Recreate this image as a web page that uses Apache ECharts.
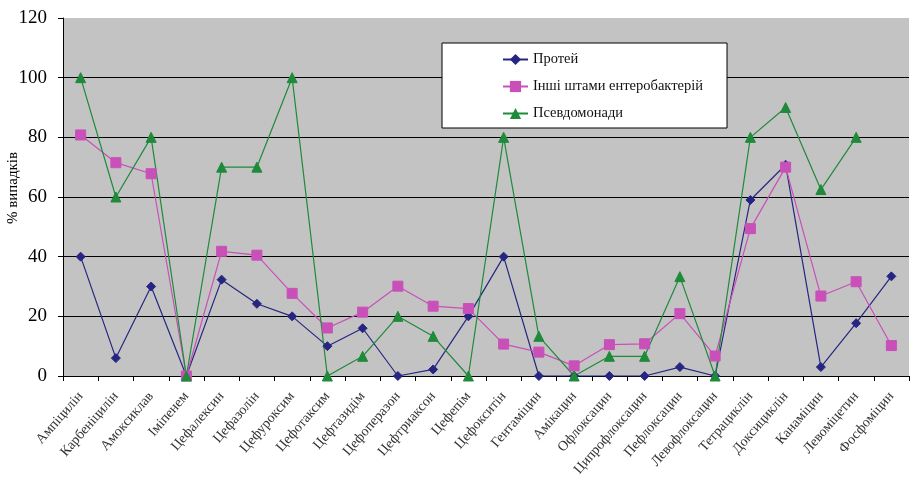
<!DOCTYPE html>
<html><head><meta charset="utf-8">
<script src="https://cdn.jsdelivr.net/npm/echarts@6/dist/echarts.min.js"></script>
<style>html,body{margin:0;padding:0;background:#fff}#c{width:911px;height:477px}</style>
</head><body><div id="c"></div>
<script>
const categories = ['Ампіцилін','Карбеніцилін','Амоксиклав','Іміпенем','Цефалексин','Цефазолін','Цефуроксим','Цефотаксим','Цефтазидім','Цефоперазон','Цефтриаксон','Цефепім','Цефокситін','Гентаміцин','Амікацин','Офлоксацин','Ципрофлоксацин','Пефлоксацин','Левофлоксацин','Тетрациклін','Доксициклін','Канаміцин','Левоміцетин','Фосфоміцин'];
const proteus = [40,6,30,0,32.3,24.2,20,10,16,0,2.2,20,40,0,0,0,0,3,0,59,70.8,3,17.7,33.4];
const enterobacteria = [80.8,71.5,67.8,0,41.8,40.5,27.7,16.1,21.4,30.1,23.4,22.6,10.7,8,3.4,10.5,10.8,20.9,6.7,49.4,70,26.8,31.6,10.2];
const pseudomonas = [100,60,80,0,70,70,100,0,6.6,20,13.3,0,80,13.3,0,6.6,6.6,33.3,0,80,90,62.5,80,null];
const seriesNames = ['Протей','Інші штами ентеробактерій','Псевдомонади'];
const yTicks = [0,20,40,60,80,100,120];

const serif = '"Liberation Serif", "DejaVu Serif", serif';
const chart = echarts.init(document.getElementById('c'));
function mk(name, data, color, symbol, size){
  return {name, type:'line', data, symbol, symbolSize:size, showSymbol:true,
    lineStyle:{color, width:1.2}, itemStyle:{color, borderColor:color}, connectNulls:false, animation:false, z: 3};
}
chart.setOption({
  animation:false,
  grid:{left:63, right:2, top:18, bottom:101, outerBoundsMode:'none', containLabel:false, show:true, backgroundColor:'#c3c3c3', borderWidth:0},
  legend:{
    orient:'vertical', left:442, top:43, padding:[9,24,7,60], itemGap:12,
    backgroundColor:'#fff', borderColor:'#000', borderWidth:1, borderRadius:0,
    itemWidth:25, itemHeight:14,
    textStyle:{fontFamily:serif, fontSize:14.5, color:'#111'},
    data: seriesNames
  },
  xAxis:{type:'category', data:categories, boundaryGap:true,
    axisLine:{lineStyle:{color:'#000', width:1}},
    axisTick:{show:true, alignWithLabel:false, length:5, lineStyle:{color:'#000'}},
    axisLabel:{rotate:49, fontFamily:serif, fontSize:14, color:'#333', margin:18, interval:0}
  },
  yAxis:{type:'value', min:yTicks[0], max:yTicks[yTicks.length-1], interval:20,
    name:'% випадків', nameLocation:'middle', nameGap:42, nameRotate:90, nameMoveOverlap:false,
    nameTextStyle:{fontFamily:serif, fontSize:15, color:'#000', padding:[0,0,0,18]},
    axisLine:{show:true, lineStyle:{color:'#000', width:1}},
    axisTick:{show:true, inside:false, length:5, lineStyle:{color:'#000'}},
    axisLabel:{fontFamily:serif, fontSize:19, color:'#000', margin:16},
    splitLine:{show:true, lineStyle:{color:['#000','#000','#000','#000','#000','#000','#c3c3c3'], width:1}}
  },
  series:[
    mk(seriesNames[0], proteus, '#262682', 'diamond', 9),
    mk(seriesNames[1], enterobacteria, '#c850b8', 'rect', 10),
    mk(seriesNames[2], pseudomonas, '#1e8a3a', 'triangle', 10)
  ]
});
</script></body></html>
